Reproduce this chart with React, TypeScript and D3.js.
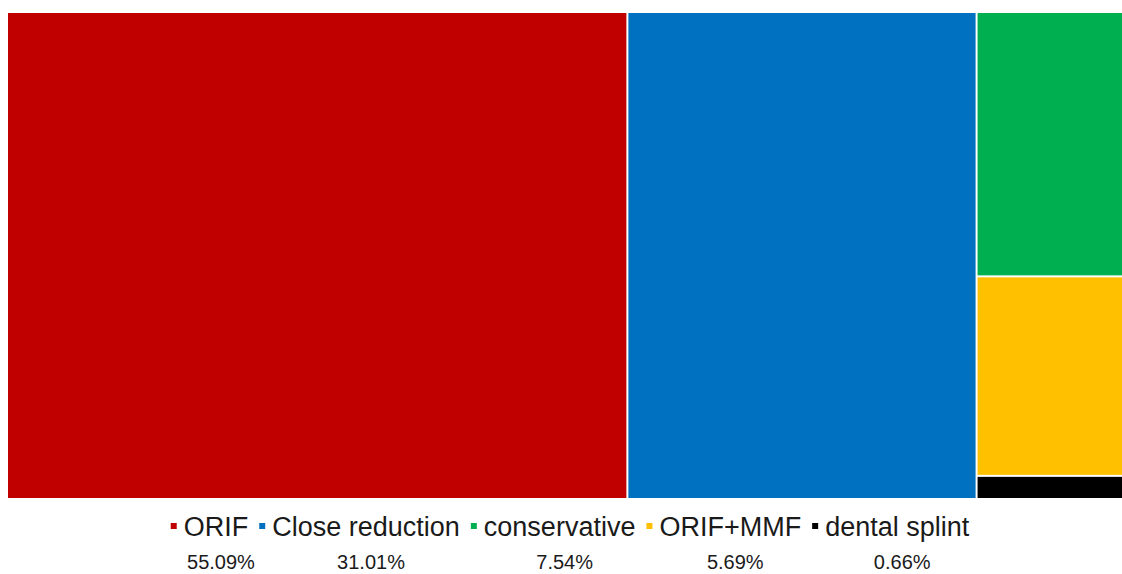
import { useRef, useEffect } from 'react';
import * as d3 from 'd3';

// treatment shares
const categories = ['ORIF', 'Close reduction', 'conservative', 'ORIF+MMF', 'dental splint'];
const shares = [55.09, 31.01, 7.54, 5.69, 0.66];
const shareLabels = ['55.09%', '31.01%', '7.54%', '5.69%', '0.66%'];
const colors = ['#C00000', '#0070C0', '#00B050', '#FFC000', '#000000'];

// the first two get their own column, the rest are stacked in the last one
const ownColumns = 2;

interface Node {
  name: string;
  value?: number;
  idx?: number;
  children?: Node[];
}

const W = 1122, H = 574;

const App = () => {
  const svgRef = useRef<SVGSVGElement>(null);

  useEffect(() => {
    const svg = d3.select(svgRef.current);
    svg.selectAll('*').remove();

    const leaves: Node[] = categories.map((c, i) => ({ name: c, value: shares[i], idx: i }));
    const data: Node = {
      name: 'root',
      children: [...leaves.slice(0, ownColumns), { name: 'rest', children: leaves.slice(ownColumns) }],
    };

    const root = d3.hierarchy<Node>(data).sum(d => (d.children ? 0 : d.value || 0));

    d3.treemap<Node>()
      .tile(d3.treemapSliceDice)
      .size([1124, 485])
      .paddingInner(2)(root);

    const plot = svg.append('g').attr('transform', 'translate(8,13)');

    plot.selectAll('rect')
      .data(root.leaves() as d3.HierarchyRectangularNode<Node>[])
      .join('rect')
      .attr('x', d => d.x0)
      .attr('y', d => d.y0)
      .attr('width', d => d.x1 - d.x0)
      .attr('height', d => d.y1 - d.y0)
      .attr('fill', d => colors[d.data.idx!]);

    // legend, laid out from measured text widths
    const legend = svg.append('g');
    const font = 'Arial, "Liberation Sans", sans-serif';
    let cursor = 0;
    const centers: number[] = [];
    categories.forEach((c, i) => {
      legend.append('rect')
        .attr('x', cursor)
        .attr('y', 523)
        .attr('width', 6)
        .attr('height', 6)
        .attr('fill', colors[i]);
      const t = legend.append('text')
        .attr('x', cursor + 13)
        .attr('y', 536)
        .attr('font-family', font)
        .attr('font-size', 27)
        .attr('fill', '#1a1a1a')
        .text(c);
      const w = (t.node() as SVGTextElement).getComputedTextLength();
      centers.push(cursor + 13 + w / 2);
      cursor += 13 + w + (i < categories.length - 1 ? 11 : 0);
    });
    const shift = 570 - cursor / 2;
    legend.attr('transform', `translate(${shift},0)`);

    svg.append('g')
      .selectAll('text')
      .data(shareLabels)
      .join('text')
      .attr('x', (_, i) => shift + centers[i] + 5)
      .attr('y', 569)
      .attr('text-anchor', 'middle')
      .attr('font-family', font)
      .attr('font-size', 20)
      .attr('fill', '#1a1a1a')
      .text(d => d);
  }, []);

  return (
    <svg
      ref={svgRef}
      width={W}
      height={H}
      style={{ position: 'fixed', left: 0, top: 0, background: '#fff' }}
    />
  );
};

export default App;
